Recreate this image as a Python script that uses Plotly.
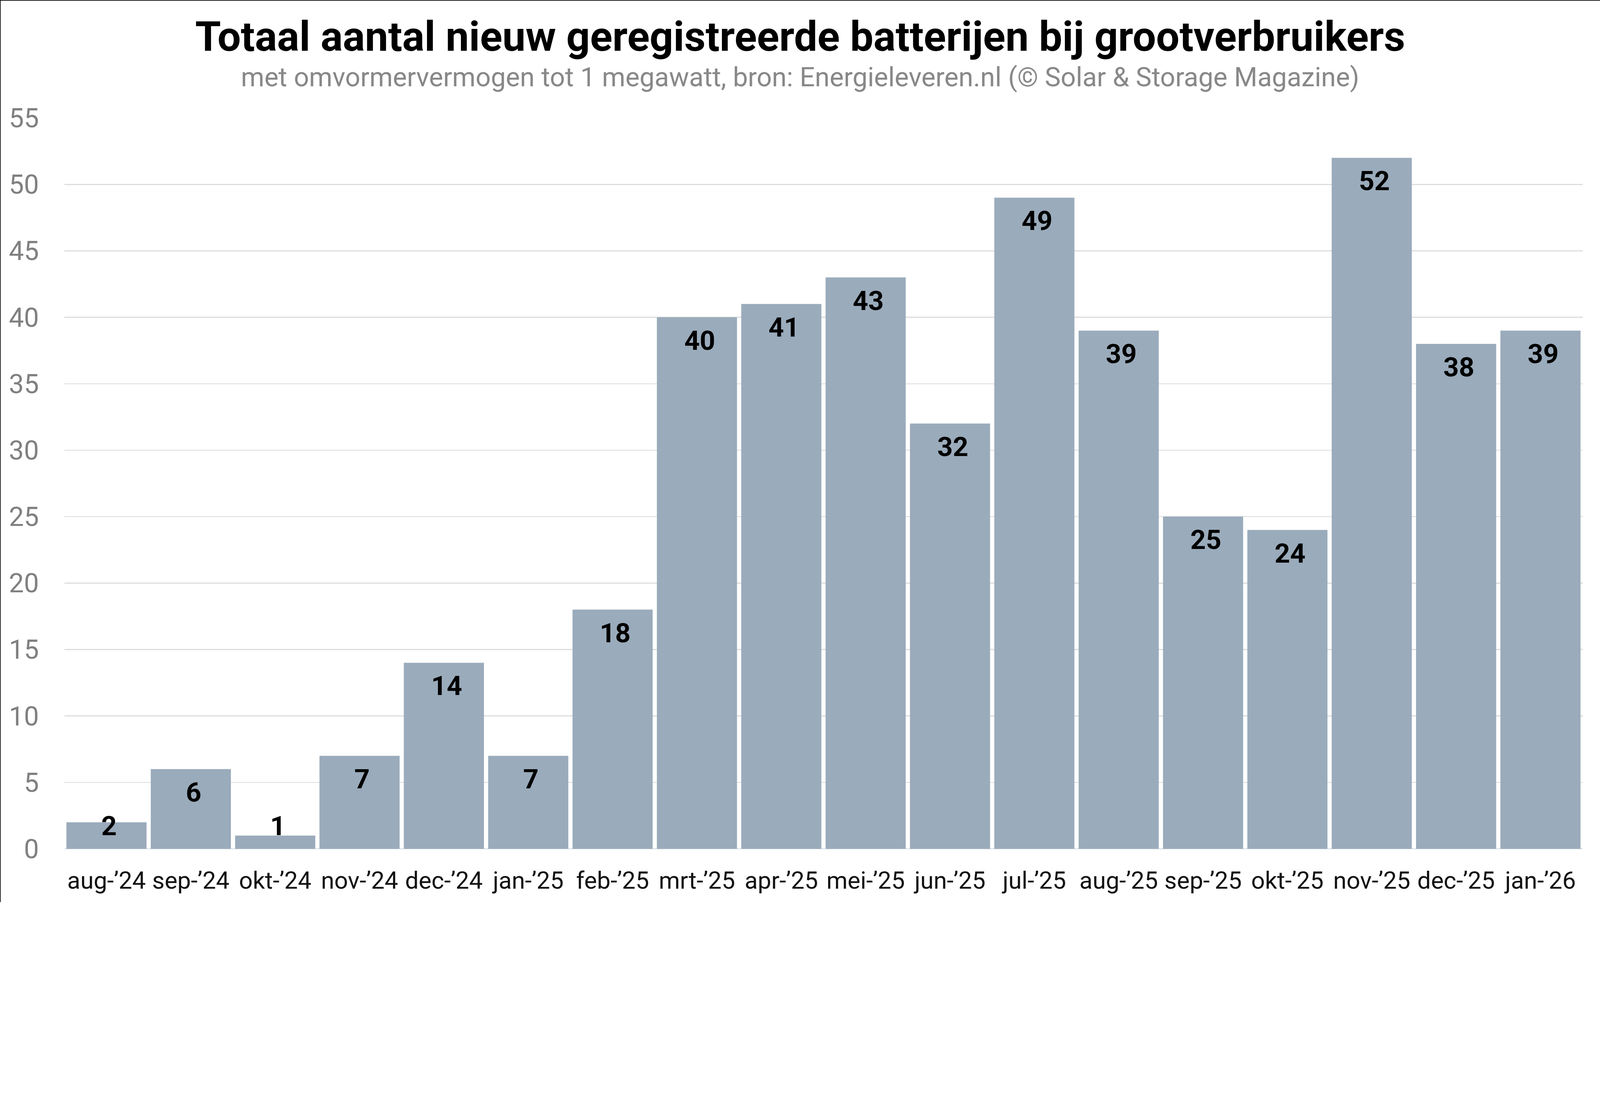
import plotly.graph_objects as go

# ---- data ----
months = ["aug-’24", "sep-’24", "okt-’24", "nov-’24", "dec-’24", "jan-’25",
          "feb-’25", "mrt-’25", "apr-’25", "mei-’25", "jun-’25", "jul-’25",
          "aug-’25", "sep-’25", "okt-’25", "nov-’25", "dec-’25", "jan-’26"]
batterijen = [2, 6, 1, 7, 14, 7, 18, 40, 41, 43, 32, 49, 39, 25, 24, 52, 38, 39]
y_ticks = [0, 5, 10, 15, 20, 25, 30, 35, 40, 45, 50, 55]

title_text = "Totaal aantal nieuw geregistreerde batterijen bij grootverbruikers"
subtitle_text = "met omvormervermogen tot 1 megawatt, bron: Energieleveren.nl (© Solar & Storage Magazine)"

# ---- layout geometry (pixels) ----
W, H = 4976, 2807
ML, MR, MT, MB = 200, 54, 367, 166
PW, PH = W - ML - MR, H - MT - MB

FONT = "Roboto"
BAR_COLOR = "#9aabbb"

fig = go.Figure()
fig.add_trace(go.Bar(
    x=months, y=batterijen,
    marker=dict(color=BAR_COLOR, line=dict(width=0)),
    hoverinfo="x+y",
))

# data labels
annotations = []
for m, v in zip(months, batterijen):
    if v < 3.5:
        annotations.append(dict(x=m, y=0, xref="x", yref="y", text=str(v),
                                showarrow=False, yanchor="bottom", yshift=19, xshift=8,
                                font=dict(family=FONT, size=84, color="#000000", weight="bold")))
    else:
        annotations.append(dict(x=m, y=v, xref="x", yref="y", text=str(v),
                                showarrow=False, yanchor="top", yshift=-21, xshift=8,
                                font=dict(family=FONT, size=84, color="#000000", weight="bold")))

page_center = (W / 2 - ML) / PW
annotations.append(dict(x=page_center, y=1 + (MT - 113) / PH, xref="paper", yref="paper",
                        text="<b>" + title_text + "</b>", showarrow=False,
                        xanchor="center", yanchor="middle",
                        font=dict(family=FONT, size=129, color="#000000")))
annotations.append(dict(x=page_center, y=1 + (MT - 239) / PH, xref="paper", yref="paper",
                        text=subtitle_text, showarrow=False,
                        xanchor="center", yanchor="middle",
                        font=dict(family=FONT, size=83, color="#888888")))

# thin frame on top and left edges
x_left = -ML / PW
x_right = 1 + MR / PW
y_top = 1 + MT / PH
y_bot = -MB / PH
shapes = [
    dict(type="line", xref="paper", yref="paper", x0=x_left, x1=x_left, y0=y_bot, y1=y_top,
         line=dict(color="#000000", width=4)),
    dict(type="line", xref="paper", yref="paper", x0=x_left, x1=x_right, y0=y_top, y1=y_top,
         line=dict(color="#000000", width=4)),
]

fig.update_layout(
    width=W, height=H,
    margin=dict(l=ML, r=MR, t=MT, b=MB, pad=0),
    paper_bgcolor="#ffffff", plot_bgcolor="#ffffff",
    bargap=0.05,
    showlegend=False,
    annotations=annotations,
    shapes=shapes,
    font=dict(family=FONT),
)
fig.update_xaxes(
    type="category", showgrid=False, showline=False, ticks="",
    tickfont=dict(family=FONT, size=75, color="#111111"),
    ticklabelstandoff=48,
)
fig.update_yaxes(
    range=[0, 55], tickvals=y_ticks, showgrid=True, gridcolor="#dddddd", gridwidth=3,
    zeroline=True, zerolinecolor="#d3dbe2", zerolinewidth=3,
    showline=False, ticks="",
    tickfont=dict(family=FONT, size=83, color="#808080"),
    ticklabelstandoff=78,
)

# scale the fixed-size figure so that it exactly fills the browser window width
fit_script = """
document.documentElement.style.margin = '0';
document.documentElement.style.padding = '0';
document.body.style.margin = '0';
document.body.style.padding = '0';
document.body.style.overflow = 'hidden';
var gd = document.getElementById('{plot_id}');
var s = Math.min(window.innerWidth / %d, window.innerHeight / %d);
if (Math.abs(s - 1) > 0.001) { gd.style.zoom = s; }
""" % (W, H)

fig.write_html("out.html", post_script=fit_script, config={"displayModeBar": False})
